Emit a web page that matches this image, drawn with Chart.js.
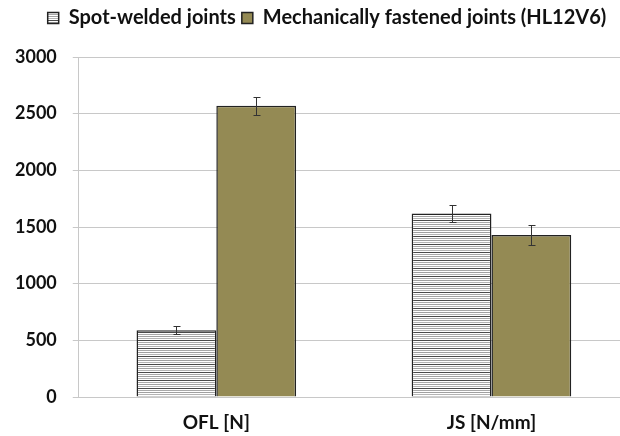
<!DOCTYPE html>
<html lang="en">
<head>
    <meta charset="UTF-8">
    <title>Joint strength comparison</title>
    <script src="https://cdn.jsdelivr.net/npm/chart.js@4.4.0/dist/chart.umd.min.js"></script>
    <style>
        html, body {
            margin: 0;
            padding: 0;
            background: #fff;
            overflow: hidden;
        }
        #wrap {
            width: 632px;
            height: 436px;
        }
    </style>
</head>
<body>
    <div id="wrap"><canvas id="jointChart"></canvas></div>

    <script>
        // Values
        const categories = ['OFL [N]', 'JS [N/mm]'];
        const spotWelded = [590, 1620];
        const spotWeldedErr = [35, 75];
        const mechFastened = [2570, 1430];
        const mechFastenedErr = [80, 85];
        const yTicks = [0, 500, 1000, 1500, 2000, 2500, 3000];

        // Horizontal line hatch for the spot-welded bars
        function makeHatch() {
            const c = document.createElement('canvas');
            c.width = 8;
            c.height = 8;
            const g = c.getContext('2d');
            g.fillStyle = '#ffffff';
            g.fillRect(0, 0, 8, 8);
            const rows = [['#a0a0a0', 0], ['#b4b4b4', 2], ['#4a4a4a', 4], ['#a8a8a8', 6]];
            rows.forEach(([col, y]) => {
                g.fillStyle = col;
                g.fillRect(0, y, 8, 1);
            });
            return g.createPattern(c, 'repeat');
        }

        // Draw the error bars from the datasets through the y scale
        const errorBars = {
            id: 'errorBars',
            afterDatasetsDraw(chart) {
                const ctx = chart.ctx;
                const y = chart.scales.y;
                chart.data.datasets.forEach((ds, i) => {
                    const meta = chart.getDatasetMeta(i);
                    meta.data.forEach((bar, j) => {
                        const v = ds.data[j];
                        const e = ds.errors[j];
                        const top = Math.round(y.getPixelForValue(v + e)) + 0.5;
                        const bot = Math.round(y.getPixelForValue(v - e)) + 0.5;
                        const x = Math.round(bar.x) + 0.5;
                        ctx.save();
                        ctx.strokeStyle = '#333';
                        ctx.lineWidth = 1;
                        ctx.beginPath();
                        ctx.moveTo(x, top);
                        ctx.lineTo(x, bot);
                        ctx.moveTo(x - 3, top);
                        ctx.lineTo(x + 4, top);
                        ctx.moveTo(x - 3, bot);
                        ctx.lineTo(x + 4, bot);
                        ctx.stroke();
                        ctx.restore();
                    });
                });
            }
        };

        // More room under the legend, and nudge it to the right
        const legendGap = {
            id: 'legendGap',
            beforeInit(chart) {
                const fit = chart.legend.fit;
                chart.legend.fit = function () {
                    fit.call(this);
                    this.height += 19;
                };
            },
            afterLayout(chart) {
                chart.legend.left += 13;
                chart.legend.right += 13;
            }
        };

        const ctx = document.getElementById('jointChart').getContext('2d');
        new Chart(ctx, {
            type: 'bar',
            data: {
                labels: categories,
                datasets: [
                    {
                        label: 'Spot-welded joints',
                        data: spotWelded,
                        errors: spotWeldedErr,
                        backgroundColor: makeHatch(),
                        borderColor: '#222',
                        borderWidth: 1.5
                    },
                    {
                        label: 'Mechanically fastened joints (HL12V6)',
                        data: mechFastened,
                        errors: mechFastenedErr,
                        backgroundColor: '#948a54',
                        borderColor: '#222',
                        borderWidth: 1.5
                    }
                ]
            },
            options: {
                responsive: true,
                maintainAspectRatio: false,
                animation: false,
                categoryPercentage: 0.58,
                barPercentage: 1.0,
                layout: { padding: { left: -1, top: 2, right: 3, bottom: 0 } },
                scales: {
                    x: {
                        grid: { display: false },
                        border: { display: false },
                        afterFit: (axis) => {
                            axis.height = 39;
                        },
                        ticks: {
                            color: '#111',
                            padding: 6,
                            font: { family: 'Lato', size: 19, weight: 'bold' }
                        }
                    },
                    y: {
                        min: 0,
                        max: 3000,
                        afterBuildTicks: (axis) => {
                            axis.ticks = yTicks.map(v => ({ value: v }));
                        },
                        grid: {
                            color: '#c8c8c8',
                            tickLength: 6,
                            lineWidth: 1
                        },
                        border: { color: '#c8c8c8' },
                        ticks: {
                            color: '#111',
                            padding: 16,
                            callback: (v) => String(v),
                            font: { family: 'Lato', size: 18, weight: 'bold' }
                        }
                    }
                },
                plugins: {
                    legend: {
                        position: 'top',
                        labels: {
                            color: '#111',
                            boxWidth: 11,
                            boxHeight: 11,
                            padding: 6,
                            font: { family: 'Lato', size: 20, weight: 'bold' }
                        }
                    },
                    tooltip: { enabled: false }
                }
            },
            plugins: [errorBars, legendGap]
        });
    </script>
</body>
</html>
